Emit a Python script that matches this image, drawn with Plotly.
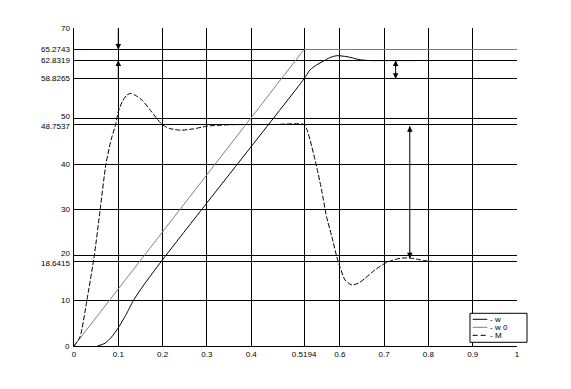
import plotly.graph_objects as go

# ---- data ----
w_x = [0.053, 0.07, 0.085, 0.1, 0.118, 0.134, 0.15, 0.17, 0.2, 0.3, 0.4, 0.5194,
       0.533, 0.548, 0.563, 0.578, 0.593, 0.616, 0.646, 0.67, 0.7, 0.772]
w_y = [0, 0.6, 2, 4, 7, 10, 12.4, 15.1, 19.0, 31.5, 43.9, 58.8265,
       60.8, 61.9, 62.7, 63.5, 63.9, 63.7, 63.0, 62.83, 62.83, 62.83]

w0_x = [0, 0.5194, 1.0]
w0_y = [0, 65.2743, 65.2743]

M_x = [0, 0.0135, 0.029, 0.046, 0.059, 0.072, 0.084, 0.094, 0.1, 0.11, 0.12, 0.129, 0.14,
       0.154, 0.17, 0.185, 0.199, 0.215, 0.241, 0.27, 0.301, 0.35, 0.4, 0.45, 0.5194,
       0.526, 0.533, 0.546, 0.559, 0.570, 0.582, 0.593, 0.600, 0.612, 0.628, 0.645, 0.657,
       0.68, 0.702, 0.72, 0.736, 0.756, 0.775, 0.789, 0.81]
M_y = [0, 2, 10, 20, 30, 40, 45.5, 48.75, 51.6, 54, 55.3, 55.6, 55.1,
       54.1, 52.2, 50.3, 48.75, 47.9, 47.5, 47.8, 48.4, 48.7, 48.75, 48.75, 48.75,
       47.6, 45.3, 40.2, 34.3, 28.5, 24.1, 19.7, 17.5, 14.5, 13.4, 14.0, 14.9,
       16.8, 18.2, 18.9, 19.3, 19.4, 19.1, 18.8, 18.6]

series_names = ["- w", "- w 0", "- M"]

x_ticks = [0, 0.1, 0.2, 0.3, 0.4, 0.5194, 0.6, 0.7, 0.8, 0.9, 1]
x_tick_text = ["0", "0.1", "0.2", "0.3", "0.4", "0.5194", "0.6", "0.7", "0.8", "0.9", "1"]
y_ticks = [0, 10, 18.6415, 20, 30, 40, 48.7537, 50, 58.8265, 62.8319, 65.2743, 70]
y_tick_text = ["0", "10", "18.6415", "20", "30", "40", "48.7537", "50", "58.8265",
               "62.8319", "65.2743", "70"]
y_label_nudge = {20: 2, 18.6415: -2, 50: 2, 48.7537: -2}

# arrows: (x, y_a, y_b, head_at_a, head_at_b)
arrows = [
    (0.1, 70, 65.2743, False, True),
    (0.1, 58.8265, 62.8319, False, True),
    (0.726, 58.83, 62.83, True, True),
    (0.758, 19.3, 48.4, True, True),
]

fig = go.Figure()
fig.add_trace(go.Scatter(x=w_x, y=w_y, mode="lines", name=series_names[0], showlegend=False,
                         line=dict(color="black", width=1, shape="spline", smoothing=0.6)))
fig.add_trace(go.Scatter(x=w0_x, y=w0_y, mode="lines", name=series_names[1], showlegend=False,
                         line=dict(color="#808080", width=1)))
fig.add_trace(go.Scatter(x=M_x, y=M_y, mode="lines", name=series_names[2], showlegend=False,
                         line=dict(color="black", width=1, dash="5px,2px",
                                   shape="spline", smoothing=0.6)))

# arrows
for xa, ya, yb, ha, hb in arrows:
    fig.add_shape(type="line", xref="x", yref="y", x0=xa, x1=xa, y0=ya, y1=yb,
                  line=dict(color="black", width=1))
    up = yb > ya
    if hb:
        fig.add_annotation(x=xa, y=yb, xref="x", yref="y", ax=0, ay=(8 if up else -8),
                           text="", showarrow=True, arrowhead=2, arrowsize=1.1,
                           arrowwidth=1, arrowcolor="black")
    if ha:
        fig.add_annotation(x=xa, y=ya, xref="x", yref="y", ax=0, ay=(-8 if up else 8),
                           text="", showarrow=True, arrowhead=2, arrowsize=1.1,
                           arrowwidth=1, arrowcolor="black")

tick_font = dict(family="Liberation Sans Narrow, Liberation Sans, Arial", size=8, color="black")

# y tick labels as annotations (nudged where they collide)
for v, t in zip(y_ticks, y_tick_text):
    fig.add_annotation(x=0, y=v, xref="paper", yref="y", text=t, showarrow=False,
                       xanchor="right", yanchor="middle", xshift=-2,
                       yshift=y_label_nudge.get(v, 0), font=tick_font)

# custom compact legend
lx0, lx1, ly0, ly1 = 0.8939, 1.0226, 0.0116, 0.1028
fig.add_shape(type="rect", xref="paper", yref="paper", x0=lx0, x1=lx1, y0=ly0, y1=ly1,
              line=dict(color="black", width=1), fillcolor="white", layer="above")
rows = [0.0840, 0.0588, 0.0336]
styles = [dict(color="black", width=1), dict(color="#808080", width=1),
          dict(color="black", width=1, dash="5px,3px")]
for ry, st, nm in zip(rows, styles, series_names):
    fig.add_shape(type="line", xref="paper", yref="paper", x0=0.9000, x1=0.9330,
                  y0=ry, y1=ry, line=st, layer="above")
    fig.add_annotation(x=0.9354, y=ry, xref="paper", yref="paper", text=nm, showarrow=False,
                       xanchor="left", yanchor="middle",
                       font=dict(family="Liberation Sans, Arial", size=8, color="black"))

fig.update_layout(
    width=571, height=389,
    margin=dict(l=74, r=54, t=28, b=43),
    paper_bgcolor="white", plot_bgcolor="white",
    font=tick_font,
    showlegend=False,
)
fig.update_xaxes(range=[0, 1], tickvals=x_ticks, ticktext=x_tick_text, showgrid=True,
                 gridcolor="black", gridwidth=1, zeroline=False, showline=True,
                 linecolor="black", linewidth=1, ticks="", tickfont=tick_font, tickangle=0)
fig.update_yaxes(range=[0, 70], tickvals=y_ticks, showticklabels=False, showgrid=True,
                 gridcolor="black", gridwidth=1, zeroline=False, showline=True,
                 linecolor="black", linewidth=1, ticks="")

fig.write_html("out.html")
